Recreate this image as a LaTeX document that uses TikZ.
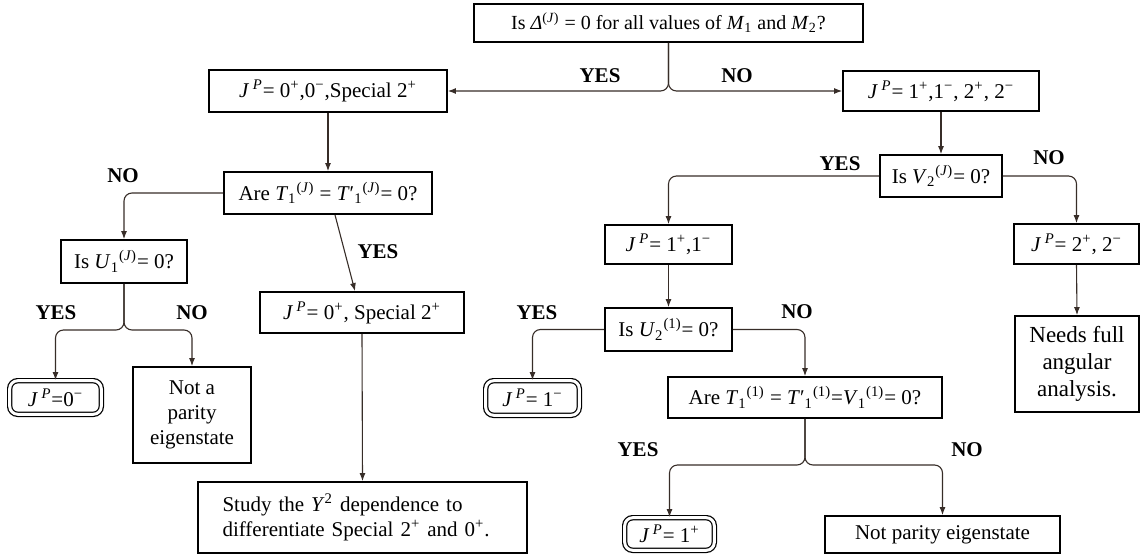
\documentclass[tikz,border=0pt]{standalone}
\usepackage{fontspec}
\setmainfont{Liberation Serif}
\usepackage{tikz}
\usetikzlibrary{arrows.meta}
\definecolor{lineclr}{RGB}{55,45,40}
\newcommand{\jp}{\textit{J}\,\textsuperscript{\textit{P}}=}
\newcommand{\sps}{\textsuperscript{+}}
\newcommand{\smi}{\textsuperscript{−}}

\begin{document}
\begin{tikzpicture}[x=0.5pt, y=-0.5pt, >={Latex[length=4pt,width=3pt]},
  box/.style={draw=black, line width=0.9pt, inner sep=1pt, font=\fontsize{10.5}{12.5}\selectfont, align=center},
  endbox/.style={draw=black, line width=0.6pt, double, double distance=1.5pt, rounded corners=4pt, inner sep=1pt, font=\fontsize{10.5}{12.5}\selectfont},
  link/.style={->, line width=0.55pt, color=lineclr, rounded corners=4pt},
  answer/.style={font=\fontsize{10.5}{12.5}\selectfont\bfseries}]
\useasboundingbox (0,0) rectangle (1140,556);
%top question
\node[box, font=\fontsize{10}{12}\selectfont, minimum width=194.5pt, minimum height=19pt] at (668.5, 23) (q0) {Is \textit{Δ}\textsuperscript{(\textit{J})} = 0 for all values of \textit{M}\textsubscript{1} and \textit{M}\textsubscript{2}?};
\node[box, minimum width=119pt, minimum height=21pt] at (328, 91) (s1) {\jp{} 0\sps,0\smi,Special 2\sps};
\node[box, minimum width=98pt, minimum height=20pt] at (941, 91) (s2) {\jp{} 1\sps,1\smi, 2\sps, 2\smi};
\draw[link] (q0.south) |- (s1.east);
\draw[link] (q0.south) |- (s2.west);
\node[answer] at (600, 76) {YES};
\node[answer] at (737, 76) {NO};
\node[box, minimum width=104pt, minimum height=21pt] at (328, 193) (q1) {Are \textit{T}\textsubscript{1}\textsuperscript{(\textit{J})} = \textit{T}′\textsubscript{1}\textsuperscript{(\textit{J})}= 0?};
\draw[link] (s1.south) -- (q1.north);
\node[box, minimum width=63pt, minimum height=21.5pt] at (124, 261.5) (q2) {Is \textit{U}\textsubscript{1}\textsuperscript{(\textit{J})}= 0?};
\draw[link] (q1.west) -| (q2.north);
\node[answer] at (123, 176) {NO};
\node[box, minimum width=102pt, minimum height=20.5pt] at (362, 312.5) (s3) {\jp{} 0\sps, Special 2\sps};
\draw[link] ([xshift=3.5pt]q1.south) -- ([xshift=-3.5pt]s3.north);
\node[answer] at (378, 252) {YES};
\node[endbox, minimum width=45.8pt, minimum height=16.8pt] at (55.5, 397.5) (r1) {\jp0\smi};
\node[box, minimum width=59pt, minimum height=48pt] at (192, 415) (r2) {Not a\\parity\\eigenstate};
\coordinate (dsplit) at (124, 330);
\draw[link] (q2.south) -- (dsplit) -| (r1.north);
\draw[link] (q2.south) -- (dsplit) -| (r2.north);
\node[answer] at (56, 313) {YES};
\node[answer] at (192, 313) {NO};
\node[box, align=left, minimum width=164.5pt, minimum height=35.5pt, text width=140pt] at (362.5, 517.5) (r3) {Study the \textit{Y}\textsuperscript{2} dependence to\\differentiate Special 2\sps{} and 0\sps.};
\draw[link] (s3.south) -- (r3.north);
%right branch
\node[box, minimum width=61pt, minimum height=21pt] at (941, 176) (q3) {Is \textit{V}\textsubscript{2}\textsuperscript{(\textit{J})}= 0?};
\draw[link] (s2.south) -- (q3.north);
\node[box, minimum width=63.5pt, minimum height=19.5pt] at (668.5, 244.5) (s4) {\jp{} 1\sps,1\smi};
\node[box, minimum width=62.5pt, minimum height=20pt] at (1076.5, 244) (s5) {\jp{} 2\sps, 2\smi};
\draw[link] (q3.west) -| (s4.north);
\draw[link] (q3.east) -| (s5.north);
\node[answer] at (840, 164) {YES};
\node[answer] at (1049, 158) {NO};
\node[box, font=\fontsize{11.5}{13.5}\selectfont, minimum width=62pt, minimum height=48pt] at (1077, 364) (r4) {Needs full\\angular\\analysis.};
\draw[link] (s5.south) -- (r4.north);
\node[box, minimum width=63.5pt, minimum height=21.5pt] at (668.5, 329.5) (q4) {Is \textit{U}\textsubscript{2}\textsuperscript{(1)}= 0?};
\draw[link] (s4.south) -- (q4.north);
\node[endbox, minimum width=46.8pt, minimum height=17.3pt] at (532.5, 398) (r5) {\jp{} 1\smi};
\node[box, minimum width=137pt, minimum height=20.5pt] at (805, 397.5) (q5) {Are \textit{T}\textsubscript{1}\textsuperscript{(1)} = \textit{T}′\textsubscript{1}\textsuperscript{(1)}=\textit{V}\textsubscript{1}\textsuperscript{(1)}= 0?};
\draw[link] (q4.west) -| (r5.north);
\draw[link] (q4.east) -| (q5.north);
\node[answer] at (537, 313) {YES};
\node[answer] at (797, 312) {NO};
\node[endbox, minimum width=44.8pt, minimum height=16.3pt] at (669.5, 534) (r6) {\jp{} 1\sps};
\node[box, minimum width=117.5pt, minimum height=18.5pt] at (942.5, 534.5) (r7) {Not parity eigenstate};
\coordinate (msplit) at (805, 465);
\draw[link] (q5.south) -- (msplit) -| (r6.north);
\draw[link] (q5.south) -- (msplit) -| (r7.north);
\node[answer] at (638, 450) {YES};
\node[answer] at (967, 450) {NO};
\end{tikzpicture}
\end{document}
